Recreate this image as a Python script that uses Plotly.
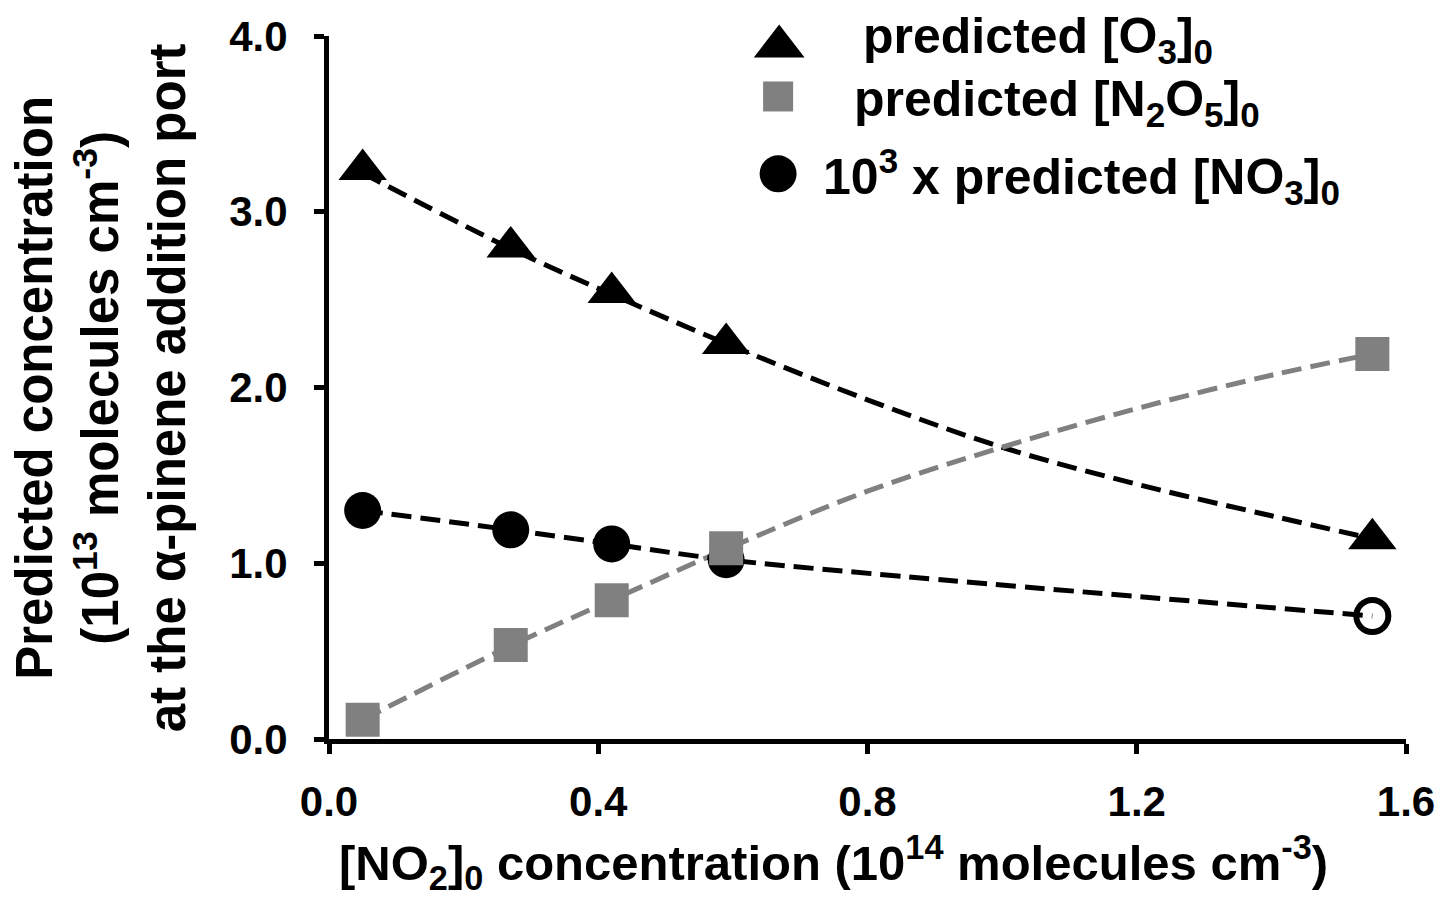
import plotly.graph_objects as go

# ---- data ----
no2_conc = [0.05, 0.27, 0.42, 0.59, 1.55]          # [NO2]0, 1e14 molecules cm-3
o3_pred = [3.24, 2.80, 2.54, 2.25, 1.14]           # predicted [O3]0, 1e13
n2o5_pred = [0.11, 0.535, 0.79, 1.085, 2.19]       # predicted [N2O5]0, 1e13
no3_pred = [1.30, 1.19, 1.11, 1.02, 0.70]          # 1e3 x predicted [NO3]0, 1e13
no3_symbols = ["circle", "circle", "circle", "circle", "circle-open"]

# dashed trend curves
trend_x = [0.05, 0.27, 0.42, 0.59, 0.80, 1.00, 1.20, 1.40, 1.55]
o3_trend = [3.22, 2.79, 2.53, 2.25, 1.93, 1.66, 1.45, 1.27, 1.14]
n2o5_trend = [0.11, 0.53, 0.79, 1.08, 1.41, 1.66, 1.88, 2.07, 2.19]

x_ticks = [0.0, 0.4, 0.8, 1.2, 1.6]
y_ticks = [0.0, 1.0, 2.0, 3.0, 4.0]

legend_labels = [
    "<b>predicted [O<sub>3</sub>]<sub>0</sub></b>",
    "<b>predicted [N<sub>2</sub>O<sub>5</sub>]<sub>0</sub></b>",
    "<b>10<sup>3</sup> x predicted [NO<sub>3</sub>]<sub>0</sub></b>",
]

FONT = "Liberation Sans, Arial, Helvetica, sans-serif"
GRAY = "#808080"
DASH = "20px,9px"

fig = go.Figure()

# trend lines
fig.add_trace(go.Scatter(
    x=trend_x, y=o3_trend, mode="lines",
    line=dict(color="black", width=5, dash=DASH, shape="spline", smoothing=1.0),
    cliponaxis=False, showlegend=False, hoverinfo="skip"))
fig.add_trace(go.Scatter(
    x=trend_x, y=n2o5_trend, mode="lines",
    line=dict(color=GRAY, width=5, dash=DASH, shape="spline", smoothing=1.0),
    cliponaxis=False, showlegend=False, hoverinfo="skip"))

# NO3 series
fig.add_trace(go.Scatter(
    x=no2_conc, y=no3_pred, mode="lines+markers",
    line=dict(color="black", width=5, dash=DASH, shape="spline", smoothing=0.8),
    marker=dict(symbol=no3_symbols, size=[37, 37, 37, 37, 32], color="black", opacity=1,
                line=dict(color="black", width=[0, 0, 0, 0, 6])),
    cliponaxis=False, showlegend=False))

# N2O5 points
fig.add_trace(go.Scatter(
    x=no2_conc, y=n2o5_pred, mode="markers",
    marker=dict(symbol="square", size=34, color=GRAY, opacity=1, line=dict(width=0)),
    cliponaxis=False, showlegend=False))

# O3 points
fig.add_trace(go.Scatter(
    x=no2_conc, y=o3_pred, mode="markers",
    marker=dict(symbol="triangle-up", size=42, color="black", opacity=1, line=dict(width=0)),
    cliponaxis=False, showlegend=False))

# ---- custom legend (paper-fraction layout positions) ----
leg_marker_x = [0.418, 0.417, 0.417]
leg_marker_y = [0.985, 0.914, 0.804]
leg_text_x = [0.494, 0.486, 0.457]
leg_text_y = [0.995, 0.905, 0.80]
fig.add_trace(go.Scatter(
    x=leg_marker_x, y=leg_marker_y, mode="markers", xaxis="x2", yaxis="y2",
    marker=dict(symbol=["triangle-up", "square", "circle"], size=[44, 30, 37],
                color=["black", GRAY, "black"], opacity=1, line=dict(width=0)),
    cliponaxis=False, showlegend=False, hoverinfo="skip"))

annotations = []
for txt, tx, ty in zip(legend_labels, leg_text_x, leg_text_y):
    annotations.append(dict(text=txt, xref="paper", yref="paper", x=tx, y=ty,
                            xanchor="left", yanchor="middle", showarrow=False,
                            font=dict(family=FONT, size=50, color="black")))

# axis titles
annotations.append(dict(
    text="<b>[NO<sub>2</sub>]<sub>0</sub> concentration (10<sup>14</sup> molecules cm<sup>-3</sup>)</b>",
    xref="paper", yref="paper", x=0.468, y=-0.176, xanchor="center", yanchor="middle",
    showarrow=False, font=dict(family=FONT, size=49, color="black")))
annotations.append(dict(
    text="<b>Predicted concentration<br>(10<sup>13</sup> molecules cm<sup>-3</sup>)<br>at the α-pinene addition port</b>",
    xref="paper", yref="paper", x=-0.212, y=0.50, xanchor="center", yanchor="middle",
    textangle=-90, showarrow=False, font=dict(family=FONT, size=51, color="black")))

fig.update_layout(
    width=1447, height=901, autosize=False,
    margin=dict(l=329, r=38, t=36, b=162),
    paper_bgcolor="white", plot_bgcolor="rgba(0,0,0,0)",
    font=dict(family=FONT, color="black"),
    annotations=annotations,
    xaxis=dict(range=[0, 1.6], tickvals=x_ticks, tickformat=".1f",
               showgrid=False, zeroline=False, showline=True, linecolor="black",
               linewidth=5, ticks="outside", ticklen=10, tickwidth=5, tickcolor="black",
               tickfont=dict(family=FONT, size=42, color="black", weight="bold"),
               ticklabelstandoff=12),
    yaxis=dict(range=[0, 4.0], tickvals=y_ticks, tickformat=".1f",
               showgrid=False, zeroline=False, showline=True, linecolor="black",
               linewidth=5, ticks="outside", ticklen=10, tickwidth=5, tickcolor="black",
               tickfont=dict(family=FONT, size=42, color="black", weight="bold"),
               ticklabelstandoff=18),
    xaxis2=dict(domain=[0, 1], range=[0, 1], anchor="y2", visible=False, fixedrange=True),
    yaxis2=dict(domain=[0, 1], range=[0, 1], anchor="x2", visible=False, fixedrange=True),
)

fig.write_html("out.html")
